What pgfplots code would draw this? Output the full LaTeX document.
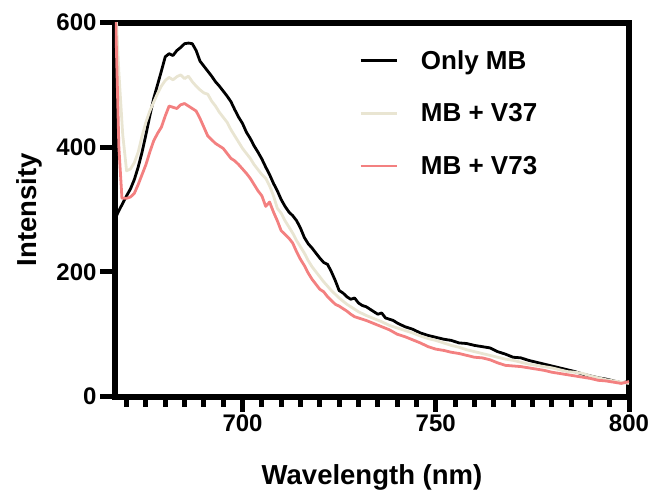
\documentclass[border=0pt]{standalone}
\usepackage{fontspec}
\setmainfont{Liberation Sans}
\usepackage{pgfplots}
\pgfplotsset{compat=1.18}
\definecolor{mbcream}{RGB}{233,229,210}
\definecolor{mbred}{RGB}{243,128,128}

\begin{document}
\begin{tikzpicture}
\path[use as bounding box] (-115bp,-102.5bp) rectangle (536bp,396.5bp);
\begin{axis}[
  at={(0,0)}, anchor=south west,
  scale only axis, width=514bp, height=374bp,
  xmin=667, xmax=800, ymin=0, ymax=600,
  xtick={700,750,800}, ytick={0,200,400,600},
  minor xtick={670,675,...,795},
  tick pos=left, tick align=outside,
  major tick length=15bp, minor tick length=10bp,
  every major tick/.style={black, line width=5bp},
  every minor tick/.style={black, line width=5bp},
  axis line style={line width=6bp},
  /pgf/number format/assume math mode=true,
  tick label style={font=\fontsize{24bp}{28bp}\selectfont\bfseries},
  label style={font=\fontsize{27.5bp}{32bp}\selectfont\bfseries},
  xlabel={Wavelength (nm)},
  ylabel={Intensity},
  xlabel style={at={(axis description cs:0.5,-0.2366)}, anchor=base},
  ylabel style={at={(axis description cs:-0.1518,0.5)}, anchor=base},
  legend style={at={(axis description cs:0.4688,0.937)}, anchor=north west,
    draw=none, fill=none, font=\fontsize{26bp}{30bp}\selectfont\bfseries,
    row sep=29bp, /tikz/every odd column/.append style={column sep=21bp}},
  legend cell align=left,
  legend image code/.code={\draw[#1] (0bp,0bp) -- (36bp,0bp);},
  every axis plot/.append style={line width=2.8bp, line join=round, no markers},
]
% Only MB
\addplot[black] coordinates {
(667,285)(668,298)(669,310)(670,322)(671,333)(672,348)(673,368)(674,392)
(675,420)(676,450)(677,478)(678,500)(679,522)(680,545)(681,550)(682,547)
(683,555)(684,560)(685,566)(686,567)(687,566)(688,555)(689,538)(690,530)
(691,522)(692,514)(693,505)(694,498)(695,490)(696,482)(697,473)(698,460)
(699,448)(700,438)(701,424)(702,414)(703,402)(704,392)(705,381)(706,368)
(707,356)(708,342)(709,330)(710,316)(711,305)(712,296)(713,290)(714,282)
(715,270)(716,255)(717,245)(718,238)(719,230)(720,222)(721,215)(722,212)
(723,200)(724,186)(725,170)(726,166)(727,160)(728,156)(729,158)(730,150)
(731,146)(732,144)(733,140)(734,136)(735,132)(736,134)(737,126)(738,124)
(739,122)(740,118)(742,112)(744,108)(746,102)(748,98)(750,95)(752,92)
(754,90)(756,86)(758,85)(760,82)(762,80)(764,78)(766,72)(768,68)
(770,63)(772,62)(774,58)(776,55)(778,52)(780,49)(782,46)(784,43)
(786,40)(788,36)(790,33)(792,30)(794,28)(796,25)(798,22)(800,24)
};
\addlegendentry{Only MB}
% MB + V37
\addplot[mbcream] coordinates {
(667,650)(668,520)(669,420)(670,362)(671,365)(672,375)(673,392)(674,418)
(675,440)(676,458)(677,472)(678,486)(679,498)(680,507)(681,512)(682,508)
(683,513)(684,516)(685,510)(686,514)(687,505)(688,498)(689,492)(690,487)
(691,485)(692,474)(693,466)(694,456)(695,448)(696,440)(697,428)(698,418)
(699,408)(700,398)(701,390)(702,382)(703,372)(704,364)(705,356)(706,350)
(707,338)(708,322)(709,302)(710,294)(711,282)(712,272)(713,262)(714,250)
(715,240)(716,230)(717,218)(718,208)(719,200)(720,192)(721,184)(722,177)
(723,170)(724,164)(725,158)(726,153)(727,148)(728,144)(729,140)(730,136)
(732,130)(734,125)(736,120)(738,114)(740,110)(742,106)(744,102)(746,97)
(748,93)(750,90)(752,86)(754,82)(756,79)(758,75)(760,72)(762,69)
(764,66)(766,63)(768,60)(770,58)(772,55)(774,52)(776,50)(778,48)
(780,46)(782,43)(784,40)(786,39)(788,37)(790,33)(792,30)(794,27)
(796,25)(798,23)(800,21)
};
\addlegendentry{MB + V37}
% MB + V73
\addplot[mbred] coordinates {
(667,650)(668,400)(668.8,318)(669.5,318)(670,318)(671,320)(672,326)(673,340)
(674,356)(675,372)(676,392)(677,410)(678,422)(679,432)(680,450)(681,466)
(682,464)(683,462)(684,468)(685,470)(686,466)(687,462)(688,458)(689,446)
(690,432)(691,418)(692,412)(693,406)(694,402)(695,398)(696,390)(697,382)
(698,378)(699,372)(700,365)(701,358)(702,350)(703,340)(704,330)(705,322)
(706,305)(707,312)(708,296)(709,282)(710,266)(711,260)(712,254)(713,246)
(714,232)(715,220)(716,210)(717,198)(718,188)(719,180)(720,172)(721,168)
(722,160)(723,154)(724,148)(725,145)(726,141)(727,137)(728,132)(729,128)
(730,126)(732,122)(734,117)(736,112)(738,107)(740,100)(742,96)(744,91)
(746,86)(748,80)(750,76)(752,74)(754,71)(756,69)(758,66)(760,63)
(762,62)(764,59)(766,54)(768,50)(770,49)(772,48)(774,46)(776,44)
(778,42)(780,39)(782,37)(784,35)(786,33)(788,31)(790,29)(792,26)
(794,25)(796,23)(798,21)(800,24)
};
\addlegendentry{MB + V73}
\end{axis}
\end{tikzpicture}
\end{document}
